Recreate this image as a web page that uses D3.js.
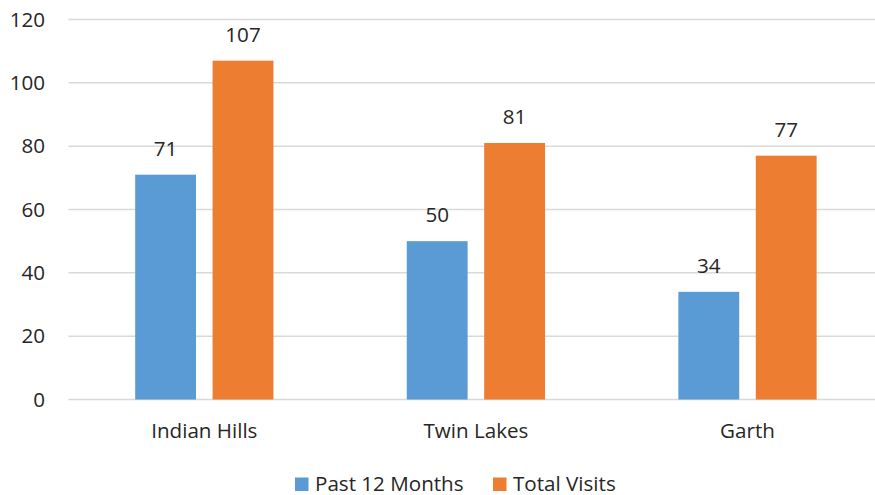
<!DOCTYPE html>
<html>
<head>
<meta charset="utf-8">
<script src="https://cdn.jsdelivr.net/npm/d3@7"></script>
<style>
  body { margin: 0; background: #fff; }
  text { font-family: "Open Sans", "Noto Sans", sans-serif; fill: #262626; }
</style>
</head>
<body>
<div id="chart"></div>
<script>
var width = 875,
    height = 495,
    fontSize = 20.6;

// data
var categories = ["Indian Hills", "Twin Lakes", "Garth"];
var seriesNames = ["Past 12 Months", "Total Visits"];
var past12 = [71, 50, 34];
var totalVisits = [107, 81, 77];
var yTicks = [0, 20, 40, 60, 80, 100, 120];
var colors = ["#5B9BD5", "#ED7D31"];

var rows = categories.map(function (c, i) {
    return { name: c, values: [past12[i], totalVisits[i]] };
});

var margin = { top: 19.5, left: 68.5, plotRight: 883.3, bottom: 399.5 };

var svg = d3.select("#chart").append("svg")
    .attr("width", width)
    .attr("height", height);

var x = d3.scaleBand()
    .domain(categories)
    .range([margin.left, margin.plotRight])
    .padding(0);

var bw = x.bandwidth() * 0.224,
    gap = x.bandwidth() * 0.061;

var y = d3.scaleLinear()
    .domain([0, 120])
    .range([margin.bottom, margin.top]);

// gridlines
svg.append("g")
    .selectAll("line")
    .data(yTicks)
    .enter().append("line")
    .attr("x1", margin.left)
    .attr("x2", width)
    .attr("y1", function (d) { return y(d); })
    .attr("y2", function (d) { return y(d); })
    .attr("stroke", "#d9d9d9")
    .attr("stroke-width", 1.5);

// y axis labels
var yAxis = d3.axisLeft(y).tickValues(yTicks).tickSize(0).tickPadding(0);
var ya = svg.append("g")
    .attr("transform", "translate(45,0)")
    .call(yAxis);
ya.select(".domain").remove();
ya.selectAll("text")
    .attr("font-size", fontSize)
    .attr("font-family", null)
    .attr("fill", null);

// x axis labels
var xAxis = d3.axisBottom(x).tickSize(0).tickPadding(0);
var xa = svg.append("g")
    .attr("transform", "translate(0,438)")
    .call(xAxis);
xa.select(".domain").remove();
xa.selectAll("text")
    .attr("dy", 0)
    .attr("font-size", fontSize)
    .attr("font-family", null)
    .attr("fill", null);

// bars
var groups = svg.append("g")
    .selectAll("g")
    .data(rows)
    .enter().append("g")
    .attr("transform", function (d) { return "translate(" + (x(d.name) + x.bandwidth() / 2) + ",0)"; });

function barX(j) {
    return j === 0 ? -gap / 2 - bw : gap / 2;
}

groups.selectAll("rect")
    .data(function (d) { return d.values; })
    .enter().append("rect")
    .attr("x", function (d, j) { return barX(j); })
    .attr("width", bw)
    .attr("y", function (d) { return y(d); })
    .attr("height", function (d) { return y(0) - y(d); })
    .attr("fill", function (d, j) { return colors[j]; });

groups.selectAll(".lbl")
    .data(function (d) { return d.values; })
    .enter().append("text")
    .attr("class", "lbl")
    .attr("x", function (d, j) { return barX(j) + bw / 2; })
    .attr("y", function (d) { return y(d) - 19; })
    .attr("text-anchor", "middle")
    .attr("font-size", fontSize)
    .text(function (d) { return d; });

// legend
var legendX = [295, 493];
var legend = svg.append("g")
    .selectAll("g")
    .data(seriesNames)
    .enter().append("g")
    .attr("transform", function (d, i) { return "translate(" + legendX[i] + ",477.5)"; });

legend.append("rect")
    .attr("width", 13.5)
    .attr("height", 13.5)
    .attr("fill", function (d, i) { return colors[i]; });

legend.append("text")
    .attr("x", 20)
    .attr("y", 13)
    .attr("font-size", fontSize)
    .text(function (d) { return d; });
</script>
</body>
</html>
